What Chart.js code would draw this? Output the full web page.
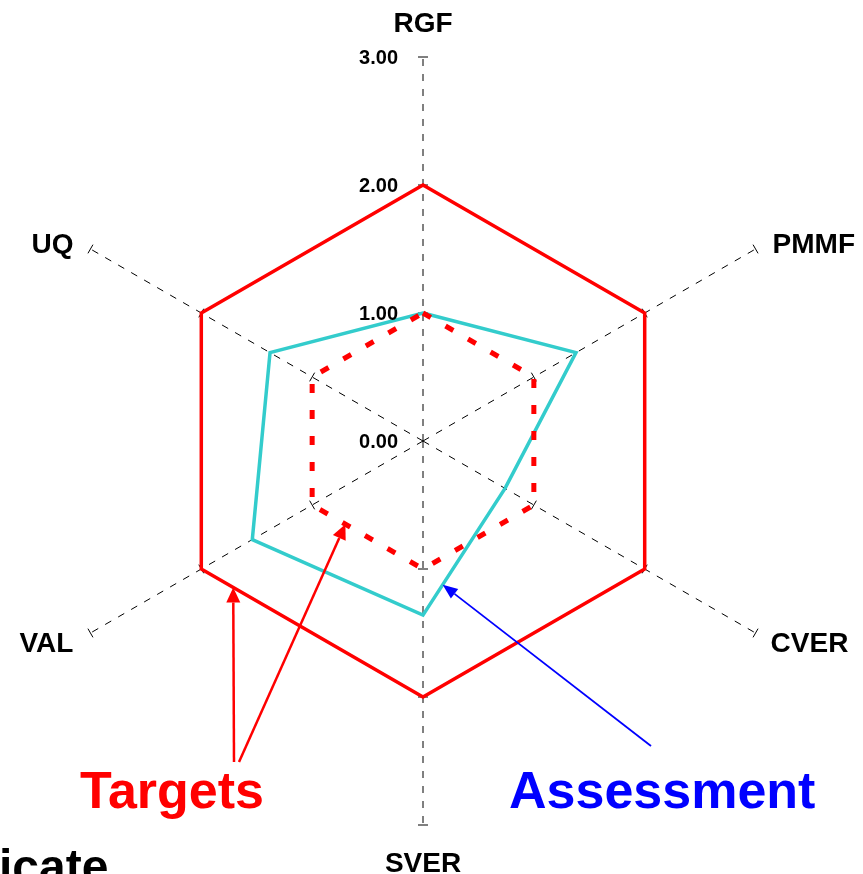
<!DOCTYPE html>
<html>
<head>
<meta charset="utf-8">
<script src="https://cdn.jsdelivr.net/npm/chart.js@4.4.0/dist/chart.umd.min.js"></script>
<style>
    html, body { margin: 0; padding: 0; background: #fff; }
    #wrap { width: 863px; height: 874px; }
</style>
</head>
<body>
<div id="wrap"><canvas id="radarChart" width="863" height="874"></canvas></div>
<script>
// =========================
// DATA
// =========================

const axisLabels = ["RGF", "PMMF", "CVER", "SVER", "VAL", "UQ"];
const tickValues = [0, 1, 2, 3];
const tickLabels = ["0.00", "1.00", "2.00", "3.00"];

const targetOuter = [2, 2, 2, 2, 2, 2];
const targetInner = [1, 1, 1, 1, 1, 1];
const assessment = [1.0, 1.38, 0.74, 1.36, 1.54, 1.38];

const FONT = '"Liberation Sans", Arial, Helvetica, sans-serif';

// =========================
// HELPERS
// =========================

function along(chart, values, i, j, t) {
    const r = chart.scales.r;
    const a = r.getPointPositionForValue(i, values[i]);
    const b = r.getPointPositionForValue(j, values[j]);
    return { x: a.x + (b.x - a.x) * t, y: a.y + (b.y - a.y) * t };
}

function drawArrow(ctx, x0, y0, x1, y1, color, width, headLen, headW) {
    const ang = Math.atan2(y1 - y0, x1 - x0);
    const bx = x1 - Math.cos(ang) * headLen;
    const by = y1 - Math.sin(ang) * headLen;
    ctx.save();
    ctx.strokeStyle = color;
    ctx.fillStyle = color;
    ctx.lineWidth = width;
    ctx.beginPath();
    ctx.moveTo(x0, y0);
    ctx.lineTo(bx, by);
    ctx.stroke();
    ctx.beginPath();
    ctx.moveTo(x1, y1);
    ctx.lineTo(bx - Math.sin(ang) * headW / 2, by + Math.cos(ang) * headW / 2);
    ctx.lineTo(bx + Math.sin(ang) * headW / 2, by - Math.cos(ang) * headW / 2);
    ctx.closePath();
    ctx.fill();
    ctx.restore();
}

// =========================
// DECORATION PLUGIN
// =========================

const decorPlugin = {
    id: "decor",

    beforeDatasetsDraw(chart) {
        const ctx = chart.ctx;
        const r = chart.scales.r;
        ctx.save();
        ctx.strokeStyle = "#000";
        ctx.lineWidth = 1;
        axisLabels.forEach((lab, i) => {
            tickValues.slice(1).forEach(v => {
                const p = r.getPointPositionForValue(i, v);
                const nx = -Math.sin(p.angle), ny = Math.cos(p.angle);
                ctx.beginPath();
                ctx.moveTo(p.x - nx * 5, p.y - ny * 5);
                ctx.lineTo(p.x + nx * 5, p.y + ny * 5);
                ctx.stroke();
            });
        });
        ctx.restore();
    },

    afterDatasetsDraw(chart) {
        const ctx = chart.ctx;
        const r = chart.scales.r;
        ctx.save();
        ctx.fillStyle = "#000";

        // tick labels on the RGF axis
        ctx.font = "bold 20px " + FONT;
        ctx.textAlign = "right";
        ctx.textBaseline = "middle";
        tickValues.forEach((v, k) => {
            const p = r.getPointPositionForValue(0, v);
            ctx.fillText(tickLabels[k], p.x - 25, p.y + 1);
        });

        // axis names
        ctx.font = "bold 28px " + FONT;
        ctx.textBaseline = "alphabetic";
        const place = [
            { align: "center", dx: 0, dy: -25 },
            { align: "left", dx: 17, dy: 4 },
            { align: "left", dx: 15, dy: 19 },
            { align: "center", dx: 0, dy: 47 },
            { align: "right", dx: -17, dy: 19 },
            { align: "right", dx: -17, dy: 4 }
        ];
        axisLabels.forEach((lab, i) => {
            const p = r.getPointPositionForValue(i, 3);
            ctx.textAlign = place[i].align;
            ctx.fillText(lab, p.x + place[i].dx, p.y + place[i].dy);
        });
        ctx.restore();
    },

    afterDraw(chart) {
        const ctx = chart.ctx;

        // arrows
        const t1 = along(chart, targetOuter, 4, 3, 0.144);
        const t2 = along(chart, targetInner, 3, 4, 0.70);
        const t3 = along(chart, assessment, 2, 3, 0.76);
        drawArrow(ctx, 234, 762, t1.x, t1.y, "#ff0000", 2.5, 15, 14);
        drawArrow(ctx, 239, 762, t2.x, t2.y, "#ff0000", 2.5, 15, 14);
        drawArrow(ctx, 651, 746, t3.x, t3.y, "#0000ff", 1.8, 15, 12);

        // annotation text
        ctx.save();
        ctx.textBaseline = "alphabetic";
        ctx.textAlign = "left";
        ctx.font = "bold 52px " + FONT;
        ctx.fillStyle = "#ff0000";
        ctx.fillText("Targets", 80, 808);
        ctx.fillStyle = "#0000ff";
        ctx.fillText("Assessment", 509, 808);
        ctx.font = "bold 48px " + FONT;
        ctx.fillStyle = "#000";
        ctx.fillText("icate", -1, 883);
        ctx.restore();
    }
};

// =========================
// CHART
// =========================

const radarChart = new Chart(
    document.getElementById("radarChart"),
    {
        type: "radar",
        data: {
            labels: axisLabels,
            datasets: [
                {
                    label: "Targets (inner)",
                    data: targetInner,
                    borderColor: "#ff0000",
                    borderWidth: 5,
                    borderDash: [9, 17],
                    fill: false,
                    pointRadius: 0
                },
                {
                    label: "Targets",
                    data: targetOuter,
                    borderColor: "#ff0000",
                    borderWidth: 3.5,
                    fill: false,
                    pointRadius: 0
                },
                {
                    label: "Assessment",
                    data: assessment,
                    borderColor: "#33cccc",
                    borderWidth: 3.5,
                    fill: false,
                    pointRadius: 0
                }
            ]
        },
        options: {
            responsive: false,
            animation: false,
            devicePixelRatio: 1,
            layout: {
                padding: { left: 39, right: 56, top: 57, bottom: 49 }
            },
            plugins: {
                legend: { display: false },
                tooltip: { enabled: false }
            },
            scales: {
                r: {
                    min: 0,
                    max: 3,
                    ticks: { display: false, stepSize: 1 },
                    grid: { display: false },
                    pointLabels: { display: false },
                    angleLines: {
                        display: true,
                        color: "#000",
                        lineWidth: 1,
                        borderDash: [7, 8]
                    }
                }
            }
        },
        plugins: [decorPlugin]
    }
);
</script>
</body>
</html>
